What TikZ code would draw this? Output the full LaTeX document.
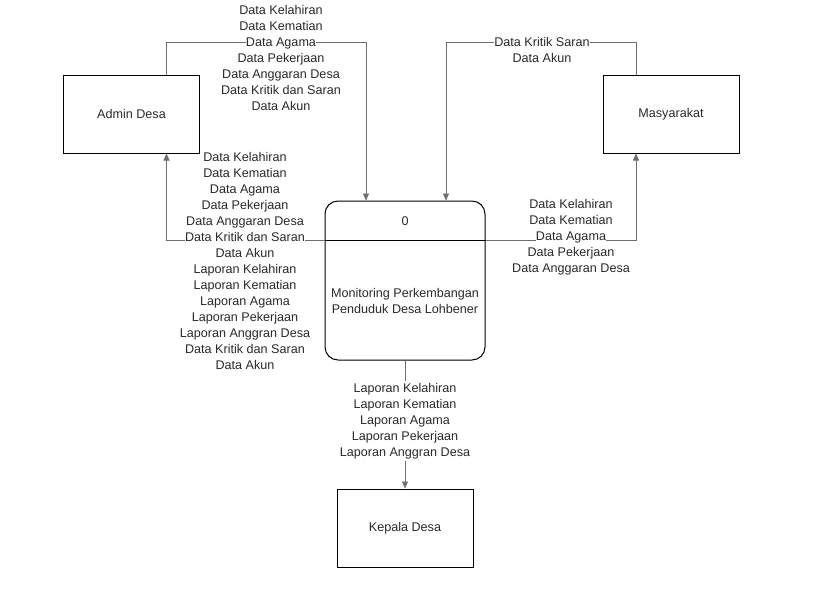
\documentclass[tikz,border=0pt]{standalone}
\usepackage{fontspec}
\setmainfont{Liberation Sans}
\usetikzlibrary{arrows.meta,calc}
\definecolor{conn}{HTML}{6E6E6E}
\definecolor{txt}{HTML}{2A2A2A}
\newcommand{\wl}[1]{{\setlength{\fboxsep}{0.3pt}\colorbox{white}{#1}}}
\begin{document}
\begin{tikzpicture}[x=1pt,y=-1pt,
  every node/.style={font=\fontsize{12.6}{16}\selectfont, text=txt},
  entity/.style={draw=black, line width=1pt, minimum width=136pt, minimum height=78pt, inner sep=0pt},
  procbox/.style={draw=black, line width=1pt, rounded corners=13pt, minimum width=160pt, minimum height=159pt, inner sep=0pt},
  flow/.style={draw=conn, line width=0.9pt, -{Triangle[length=7pt,width=6pt]}},
  lbl/.style={align=center, inner sep=0pt}]
\useasboundingbox (0,0) rectangle (819,589);
\fill[white] (0,0) rectangle (819,589);

\node[entity] (admin) at (131.5,114) {Admin Desa};
\node[entity] (masy) at (671,114) {Masyarakat};
\node[entity] (kepala) at (405,528) {Kepala Desa};
\node[procbox] (proc) at (405,280.5) {};
\node (pid) at (405,221) {0};
\node[lbl] (pname) at (405,301) {Monitoring Perkembangan\\Penduduk Desa Lohbener};

% connectors
\draw[flow] ([xshift=35pt]admin.north) -- ++(0,-32) -| ([xshift=-39pt]proc.north);
\draw[flow] ([xshift=-35pt]masy.north) -- ++(0,-32) -| ([xshift=41pt]proc.north);
\draw[flow] ([yshift=40.5pt]proc.west) -| ([xshift=35pt]admin.south);
\draw[flow] ([yshift=40.5pt]proc.east) -| ([xshift=-35pt]masy.south);
\draw[flow] (proc.south) -- (kepala.north);
\draw[black, line width=1pt] ([yshift=40.5pt]proc.west) -- ([yshift=40.5pt]proc.east);

% labels
\node[lbl] (l1) at (281,58) {\wl{Data Kelahiran}\\\wl{Data Kematian}\\\wl{Data Agama}\\\wl{Data Pekerjaan}\\\wl{Data Anggaran Desa}\\\wl{Data Kritik dan Saran}\\\wl{Data Akun}};
\node[lbl] (l2) at (542,50) {\wl{Data Kritik Saran}\\\wl{Data Akun}};
\node[lbl] (l3) at (245,261) {\wl{Data Kelahiran}\\\wl{Data Kematian}\\\wl{Data Agama}\\\wl{Data Pekerjaan}\\\wl{Data Anggaran Desa}\\\wl{Data Kritik dan Saran}\\\wl{Data Akun}\\\wl{Laporan Kelahiran}\\\wl{Laporan Kematian}\\\wl{Laporan Agama}\\\wl{Laporan Pekerjaan}\\\wl{Laporan Anggran Desa}\\\wl{Data Kritik dan Saran}\\\wl{Data Akun}};
\node[lbl] (l4) at (571,237) {\wl{Data Kelahiran}\\\wl{Data Kematian}\\\wl{Data Agama}\\\wl{Data Pekerjaan}\\\wl{Data Anggaran Desa}};
\node[lbl, fill=white, inner sep=2pt] (l5) at (405,421) {Laporan Kelahiran\\Laporan Kematian\\Laporan Agama\\Laporan Pekerjaan\\Laporan Anggran Desa};
\end{tikzpicture}
\end{document}
